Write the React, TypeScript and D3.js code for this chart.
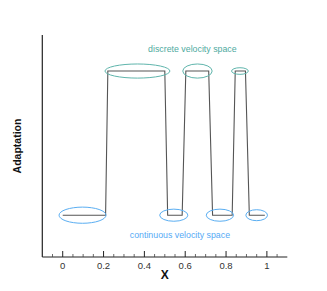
import * as d3 from "d3";
import { useEffect, useRef } from "react";
import * as React from "react";

// adaptation profile: 0 = continuous velocity space, 1 = discrete velocity space
const xs = [0, 0.21, 0.221, 0.5, 0.514, 0.585, 0.603, 0.715, 0.734, 0.83, 0.845, 0.895, 0.914, 0.99];
const adaptation = [0, 0, 1, 1, 0, 0, 1, 1, 0, 0, 1, 1, 0, 0];

const xTicks = [0, 0.2, 0.4, 0.6, 0.8, 1];
const xTickLabels = ["0", "0.2", "0.4", "0.6", "0.8", "1"];

// highlighted regions (center x, center y, half-width x, half-height y)
const discreteCx = [0.366, 0.66, 0.868];
const discreteRx = [0.159, 0.072, 0.041];
const discreteRy = [0.049, 0.049, 0.023];
const continuousCx = [0.097, 0.544, 0.77, 0.95];
const continuousRx = [0.115, 0.069, 0.067, 0.053];
const continuousRy = [0.056, 0.042, 0.042, 0.038];

const W = 327;
const H = 291;

const App: React.FC = () => {
  const svgRef = useRef<SVGSVGElement | null>(null);

  useEffect(() => {
    if (!svgRef.current) return;
    const svg = d3.select(svgRef.current);
    svg.selectAll("*").remove();

    const x = d3.scaleLinear().domain([-0.1, 1.1]).range([42.3, 287.3]);
    const y = d3.scaleLinear().domain([-0.29, 1.25]).range([257, 35]);
    const font = "Liberation Sans, Arial, sans-serif";

    // data line
    const pts = xs.map((v, i) => [v, adaptation[i]] as [number, number]);
    const line = d3.line<[number, number]>().x(d => x(d[0])).y(d => y(d[1]));
    svg.append("path")
      .datum(pts)
      .attr("fill", "none")
      .attr("stroke", "#555")
      .attr("stroke-width", 1.1)
      .attr("d", line);

    // ellipses
    svg.selectAll(".disc")
      .data(discreteCx)
      .enter().append("ellipse")
      .attr("cx", d => x(d))
      .attr("cy", y(1))
      .attr("rx", (_, i) => x(discreteRx[i]) - x(0))
      .attr("ry", (_, i) => y(0) - y(discreteRy[i]))
      .attr("fill", "none")
      .attr("stroke", "#5fb5ac")
      .attr("stroke-width", 1);

    svg.selectAll(".cont")
      .data(continuousCx)
      .enter().append("ellipse")
      .attr("cx", d => x(d))
      .attr("cy", y(0))
      .attr("rx", (_, i) => x(continuousRx[i]) - x(0))
      .attr("ry", (_, i) => y(0) - y(continuousRy[i]))
      .attr("fill", "none")
      .attr("stroke", "#5aaef2")
      .attr("stroke-width", 1);

    svg.append("text")
      .attr("x", x(0.635))
      .attr("y", 52)
      .attr("text-anchor", "middle")
      .attr("font-family", font)
      .attr("font-size", 8.8)
      .attr("fill", "#4eaaa0")
      .text("discrete velocity space");

    svg.append("text")
      .attr("x", x(0.574))
      .attr("y", 237.8)
      .attr("text-anchor", "middle")
      .attr("font-family", font)
      .attr("font-size", 8.8)
      .attr("fill", "#55aaf5")
      .text("continuous velocity space");

    // axes
    svg.append("line")
      .attr("x1", x(-0.1)).attr("x2", x(-0.1))
      .attr("y1", y(1.25)).attr("y2", y(-0.29))
      .attr("stroke", "#222").attr("stroke-width", 1.2);
    svg.append("line")
      .attr("x1", x(-0.1)).attr("x2", x(1.1))
      .attr("y1", y(-0.29)).attr("y2", y(-0.29))
      .attr("stroke", "#222").attr("stroke-width", 1.2);

    const minor = d3.range(-0.05, 1.1, 0.05).filter(v => xTicks.every(t => Math.abs(t - v) > 1e-6));
    svg.selectAll(".minor")
      .data(minor)
      .enter().append("line")
      .attr("x1", d => x(d)).attr("x2", d => x(d))
      .attr("y1", y(-0.29)).attr("y2", y(-0.29) - 3)
      .attr("stroke", "#444").attr("stroke-width", 0.8);
    svg.selectAll(".major")
      .data(xTicks)
      .enter().append("line")
      .attr("x1", d => x(d)).attr("x2", d => x(d))
      .attr("y1", y(-0.29)).attr("y2", y(-0.29) - 6)
      .attr("stroke", "#222").attr("stroke-width", 1);
    svg.selectAll(".tlab")
      .data(xTicks)
      .enter().append("text")
      .attr("x", d => x(d))
      .attr("y", 268.5)
      .attr("text-anchor", "middle")
      .attr("font-family", font)
      .attr("font-size", 9.5)
      .attr("fill", "#333")
      .text((_, i) => xTickLabels[i]);

    svg.append("text")
      .attr("x", x(0.5))
      .attr("y", 279)
      .attr("text-anchor", "middle")
      .attr("font-family", font)
      .attr("font-size", 12)
      .attr("font-weight", "bold")
      .attr("fill", "#111")
      .text("X");

    svg.append("text")
      .attr("transform", `translate(20.5,${146}) rotate(-90)`)
      .attr("text-anchor", "middle")
      .attr("font-family", font)
      .attr("font-size", 10.5)
      .attr("font-weight", "bold")
      .attr("fill", "#111")
      .text("Adaptation");
  }, []);

  return (
    <div style={{ position: "absolute", left: 0, top: 0 }}>
      <svg ref={svgRef} width={W} height={H} style={{ display: "block", background: "#fff" }} />
    </div>
  );
};

export default App;
